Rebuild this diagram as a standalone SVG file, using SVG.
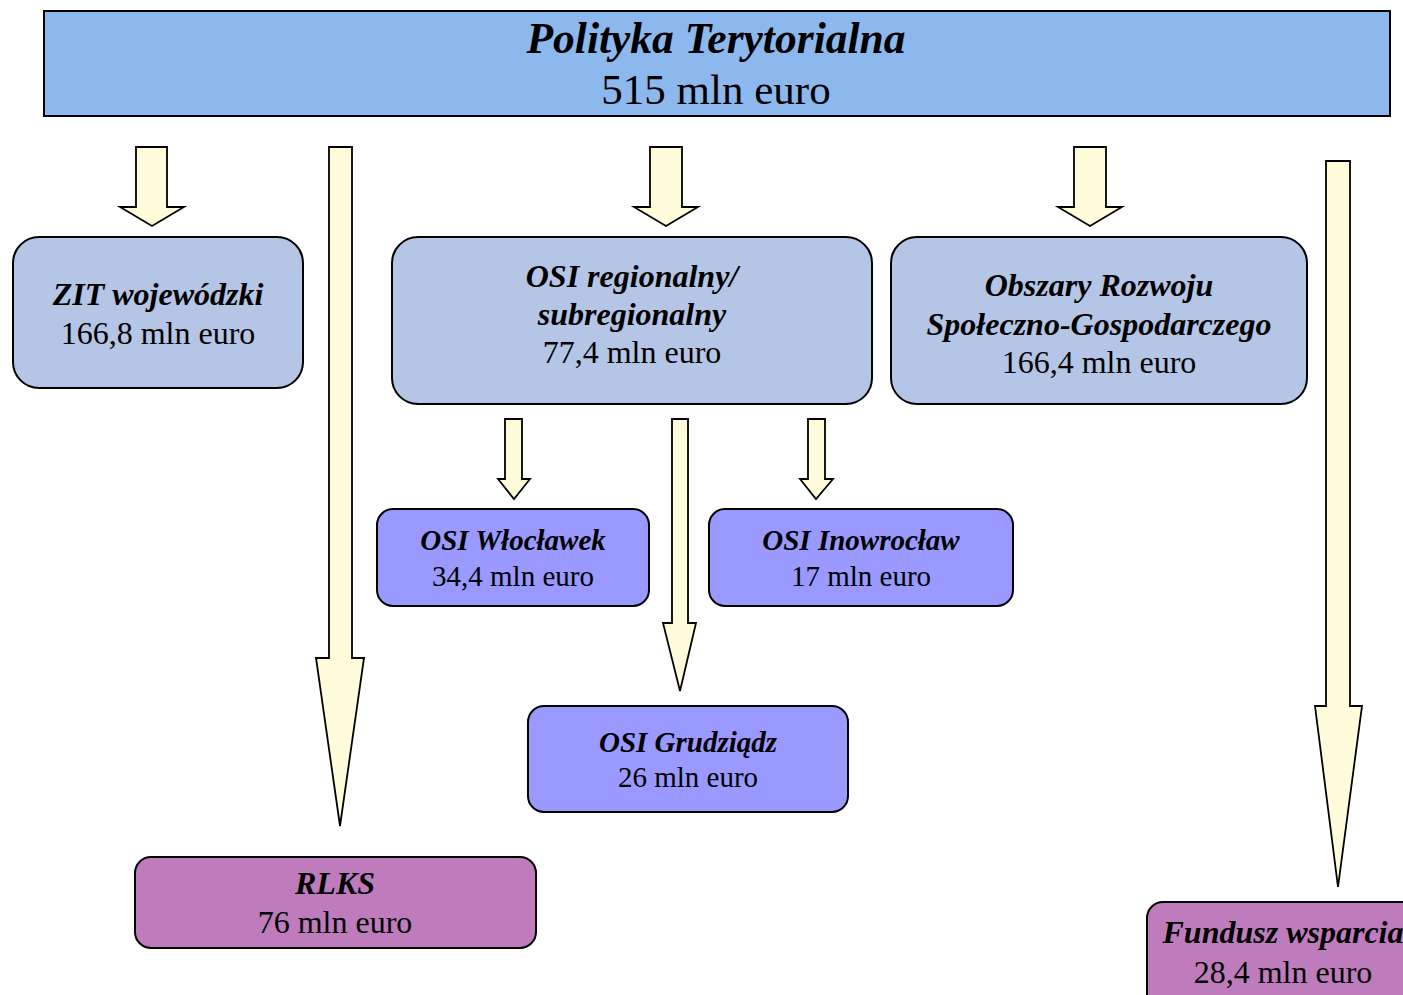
<svg xmlns="http://www.w3.org/2000/svg" width="1403" height="995" viewBox="0 0 1403 995">
<style>
.bx{stroke:#000;stroke-width:2}
.top{fill:#8DB8EE}
.l2{fill:#B4C5E5}
.l3{fill:#9999FF}
.l4{fill:#BF7CBD}
.ar{fill:#FFFCDC;stroke:#000;stroke-width:1.8;stroke-linejoin:miter}
text{font-family:"Liberation Serif","Times New Roman",serif;text-anchor:middle;fill:#000}
.b{font-weight:bold;font-style:italic}
</style>
<rect width="1403" height="995" fill="#fff"/>
<g id="polityka">
<rect class="bx top" x="44" y="11" width="1346" height="105"/>
<text x="716" y="53" font-size="43.5" class="b">Polityka Terytorialna</text>
<text x="716" y="104" font-size="43">515 mln euro</text>
</g>
<g id="connectors">
<polygon class="ar" points="136,147 167,147 167,207 184,207 152,226 120,207 136,207"/>
<polygon class="ar" points="329,147 352,147 352,658 364,658 340,826 316,658 329,658"/>
<polygon class="ar" points="650,147 682,147 682,207 698,207 666,226 634,207 650,207"/>
<polygon class="ar" points="1074,147 1106,147 1106,207 1122,207 1090,226 1058,207 1074,207"/>
<polygon class="ar" points="1326,161 1350,161 1350,706 1362,706 1338,887 1315,706 1326,706"/>
<polygon class="ar" points="505,419 522,419 522,479 530,479 514,499 498,479 505,479"/>
<polygon class="ar" points="672,419 688,419 688,623 696,623 680,691 663,623 672,623"/>
<polygon class="ar" points="808,419 825,419 825,479 833,479 816,499 800,479 808,479"/>
</g>
<g id="zit">
<rect class="bx l2" x="13" y="237" width="290" height="151" rx="26"/>
<text x="158" y="305" font-size="32" class="b">ZIT wojewódzki</text>
<text x="158" y="344" font-size="32">166,8 mln euro</text>
</g>
<g id="osi-regionalny">
<rect class="bx l2" x="392" y="237" width="480" height="167" rx="26"/>
<text x="632" y="287" font-size="32" class="b">OSI regionalny/</text>
<text x="632" y="325" font-size="32" class="b">subregionalny</text>
<text x="632" y="363" font-size="32">77,4 mln euro</text>
</g>
<g id="obszary">
<rect class="bx l2" x="891" y="237" width="416" height="167" rx="26"/>
<text x="1099" y="296" font-size="32" class="b">Obszary Rozwoju</text>
<text x="1099" y="335" font-size="32" class="b">Społeczno-Gospodarczego</text>
<text x="1099" y="373" font-size="32">166,4 mln euro</text>
</g>
<g id="osi-wloclawek">
<rect class="bx l3" x="377" y="509" width="272" height="97" rx="16"/>
<text x="513" y="550" font-size="29" class="b">OSI Włocławek</text>
<text x="513" y="586" font-size="29">34,4 mln euro</text>
</g>
<g id="osi-inowroclaw">
<rect class="bx l3" x="709" y="509" width="304" height="97" rx="16"/>
<text x="861" y="550" font-size="29" class="b">OSI Inowrocław</text>
<text x="861" y="586" font-size="29">17 mln euro</text>
</g>
<g id="osi-grudziadz">
<rect class="bx l3" x="528" y="706" width="320" height="106" rx="16"/>
<text x="688" y="752" font-size="29" class="b">OSI Grudziądz</text>
<text x="688" y="787" font-size="29">26 mln euro</text>
</g>
<g id="rlks">
<rect class="bx l4" x="135" y="857" width="401" height="91" rx="16"/>
<text x="335" y="894" font-size="32" class="b">RLKS</text>
<text x="335" y="933" font-size="32">76 mln euro</text>
</g>
<g id="fundusz">
<rect class="bx l4" x="1147" y="902" width="272" height="110" rx="16"/>
<text x="1283" y="943" font-size="32" class="b">Fundusz wsparcia</text>
<text x="1283" y="983" font-size="32">28,4 mln euro</text>
</g>
</svg>
